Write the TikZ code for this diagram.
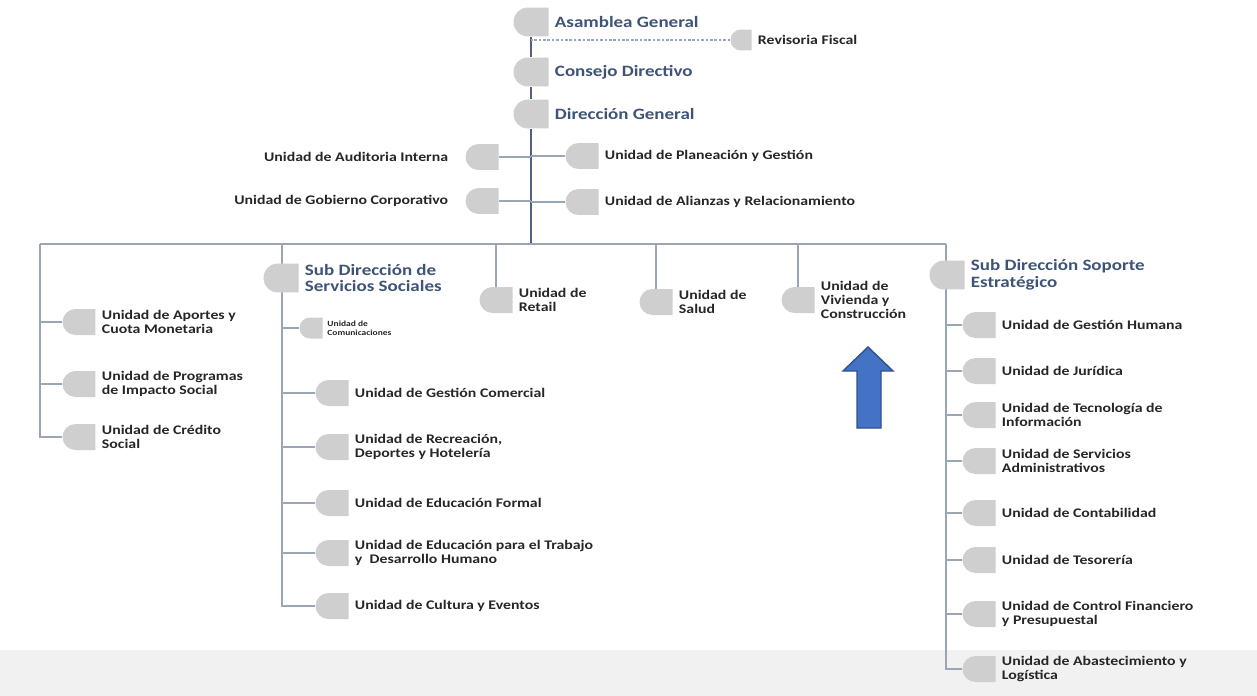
\documentclass[tikz,border=0pt]{standalone}
\usepackage{fontspec}
\setmainfont{Carlito}[FakeStretch=1.2]
\usepackage{tikz}
\usetikzlibrary{positioning,shapes.misc,backgrounds}
\definecolor{tabgrey}{HTML}{CFCFCF}
\definecolor{headblue}{HTML}{3E5378}
\definecolor{txt}{HTML}{262626}
\definecolor{spine}{HTML}{4F6080}
\definecolor{branch}{HTML}{9AA5B6}
\definecolor{band}{HTML}{F1F1F1}
\definecolor{upfill}{HTML}{4472C4}
\definecolor{upline}{HTML}{2F528F}

\begin{document}
\begin{tikzpicture}[x=0.02cm, y=-0.02cm,
    tab/.style={rounded rectangle, rounded rectangle right arc=none, fill=tabgrey,
      inner sep=0pt, minimum width=0.66cm, minimum height=0.52cm},
    bigtab/.style={tab, minimum width=0.7cm, minimum height=0.58cm},
    smalltab/.style={tab, minimum width=0.4cm, minimum height=0.42cm},
    lbl/.style={inner sep=1pt, align=left, text=txt, font=\bfseries\fontsize{7.5}{8}\selectfont},
    head/.style={lbl, text=headblue, font=\bfseries\fontsize{9}{9.5}\selectfont},
    trunk/.style={spine, line width=1.1pt},
    bar/.style={branch, line width=0.8pt},
    link/.style={branch, line width=0.6pt},
  ]
  \useasboundingbox (0,0) rectangle (1257,696);

  % top of the chart
  \node[bigtab] (asm) at (531,22) {};
  \node[head, right=0.8mm of asm] (asmL) {Asamblea General};
  \node[smalltab] (rev) at (741,40) {};
  \node[lbl, right=0.8mm of rev] (revL) {Revisoria Fiscal};
  \node[bigtab] (con) at (531,72) {};
  \node[head, right=0.8mm of con] (conL) {Consejo Directivo};
  \node[bigtab] (dir) at (531,114) {};
  \node[head, right=0.8mm of dir] (dirL) {Dirección General};

  % staff units
  \node[tab] (aud) at (482,157) {};
  \node[lbl, left=3mm of aud] (audL) {Unidad de Auditoria Interna};
  \node[tab] (gob) at (482,201) {};
  \node[lbl, left=3mm of gob] (gobL) {Unidad de Gobierno Corporativo};
  \node[tab] (pla) at (582,156) {};
  \node[lbl, right=0.8mm of pla] (plaL) {Unidad de Planeación y Gestión};
  \node[tab] (ali) at (582,202) {};
  \node[lbl, right=0.8mm of ali] (aliL) {Unidad de Alianzas y Relacionamiento};

  \coordinate (hub) at (531,244);
  \coordinate (b1) at (40,244);
  \coordinate (b2) at (282,244);
  \coordinate (b6) at (946,244);

  % left column
  \node[tab] (apo) at (79,322) {};
  \node[lbl, right=0.8mm of apo] (apoL) {Unidad de Aportes y\\Cuota Monetaria};
  \node[tab] (pro) at (79,384) {};
  \node[lbl, right=0.8mm of pro] (proL) {Unidad de Programas\\de Impacto Social};
  \node[tab] (cre) at (79,437) {};
  \node[lbl, right=0.8mm of cre] (creL) {Unidad de Crédito\\Social};

  % servicios sociales
  \node[bigtab] (sss) at (281,278) {};
  \node[head, right=0.8mm of sss] (sssL) {Sub Dirección de\\Servicios Sociales};
  \node[smalltab, minimum width=0.46cm] (com) at (311,328) {};
  \node[lbl, font=\bfseries\fontsize{4.5}{5}\selectfont, right=0.5mm of com] (comL) {Unidad de\\Comunicaciones};
  \node[tab] (gco) at (332,393) {};
  \node[lbl, right=0.8mm of gco] (gcoL) {Unidad de Gestión Comercial};
  \node[tab] (rec) at (332,447) {};
  \node[lbl, right=0.8mm of rec] (recL) {Unidad de Recreación,\\Deportes y Hotelería};
  \node[tab] (edu) at (332,503) {};
  \node[lbl, right=0.8mm of edu] (eduL) {Unidad de Educación Formal};
  \node[tab] (edt) at (332,553) {};
  \node[lbl, right=0.8mm of edt] (edtL) {Unidad de Educación para el Trabajo\\y\ \ Desarrollo Humano};
  \node[tab] (cul) at (332,606) {};
  \node[lbl, right=0.8mm of cul] (culL) {Unidad de Cultura y Eventos};

  % units hanging from the bar
  \node[tab] (ret) at (496,300) {};
  \node[lbl, right=0.8mm of ret] (retL) {Unidad de\\Retail};
  \node[tab] (sal) at (656,302) {};
  \node[lbl, right=0.8mm of sal] (salL) {Unidad de\\Salud};
  \node[tab] (viv) at (798,300) {};
  \node[lbl, right=0.8mm of viv] (vivL) {Unidad de\\Vivienda y\\Construcción};

  % soporte estrategico
  \node[bigtab] (sse) at (947,275) {};
  \node[head, right=0.8mm of sse] (sseL) {Sub Dirección Soporte\\Estratégico};
  \node[tab] (ghu) at (979,325) {};
  \node[lbl, right=0.8mm of ghu] (ghuL) {Unidad de Gestión Humana};
  \node[tab] (jur) at (979,371) {};
  \node[lbl, right=0.8mm of jur] (jurL) {Unidad de Jurídica};
  \node[tab] (tec) at (979,415) {};
  \node[lbl, right=0.8mm of tec] (tecL) {Unidad de Tecnología de\\Información};
  \node[tab] (sad) at (979,461) {};
  \node[lbl, right=0.8mm of sad] (sadL) {Unidad de Servicios\\Administrativos};
  \node[tab] (cnt) at (979,513) {};
  \node[lbl, right=0.8mm of cnt] (cntL) {Unidad de Contabilidad};
  \node[tab] (tes) at (979,560) {};
  \node[lbl, right=0.8mm of tes] (tesL) {Unidad de Tesorería};
  \node[tab] (cfp) at (979,614) {};
  \node[lbl, right=0.8mm of cfp] (cfpL) {Unidad de Control Financiero\\y Presupuestal};
  \node[tab] (aba) at (979,669) {};
  \node[lbl, right=0.8mm of aba] (abaL) {Unidad de Abastecimiento y\\Logística};

  % blue arrow
  \draw[fill=upfill, draw=upline, line width=0.8pt] (857,428) -- (857,371) -- (843,371)
    -- (868,347) -- (893,371) -- (881,371) -- (881,428) -- cycle;

  \begin{scope}[on background layer]
    \fill[band] (0,650) rectangle (1257,696);
    \draw[trunk] (asm) -- (con);
    \draw[trunk] (con) -- (dir);
    \draw[trunk] (dir) -- (hub);
    \draw[link, dash pattern=on 1.5pt off 1pt] (rev.west) -- (rev.west -| asm);
    \draw[link] (aud.east) -- (aud.east -| dir);
    \draw[link] (gob.east) -- (gob.east -| dir);
    \draw[link] (pla.west) -- (pla.west -| dir);
    \draw[link] (ali.west) -- (ali.west -| dir);
    \draw[bar] (b1) -- (b6);
    \draw[link] (b1) |- (cre.west);
    \draw[link] (apo.west) -- (apo.west -| b1);
    \draw[link] (pro.west) -- (pro.west -| b1);
    \draw[link] (b2) |- (cul.west);
    \foreach \u in {com,gco,rec,edu,edt}
      \draw[link] (\u.west) -- (\u.west -| b2);
    \draw[link] (ret) -- (ret |- hub);
    \draw[link] (sal) -- (sal |- hub);
    \draw[link] (viv) -- (viv |- hub);
    \draw[link] (b6) |- (aba.west);
    \foreach \u in {ghu,jur,tec,sad,cnt,tes,cfp}
      \draw[link] (\u.west) -- (\u.west -| b6);
  \end{scope}
\end{tikzpicture}
\end{document}
